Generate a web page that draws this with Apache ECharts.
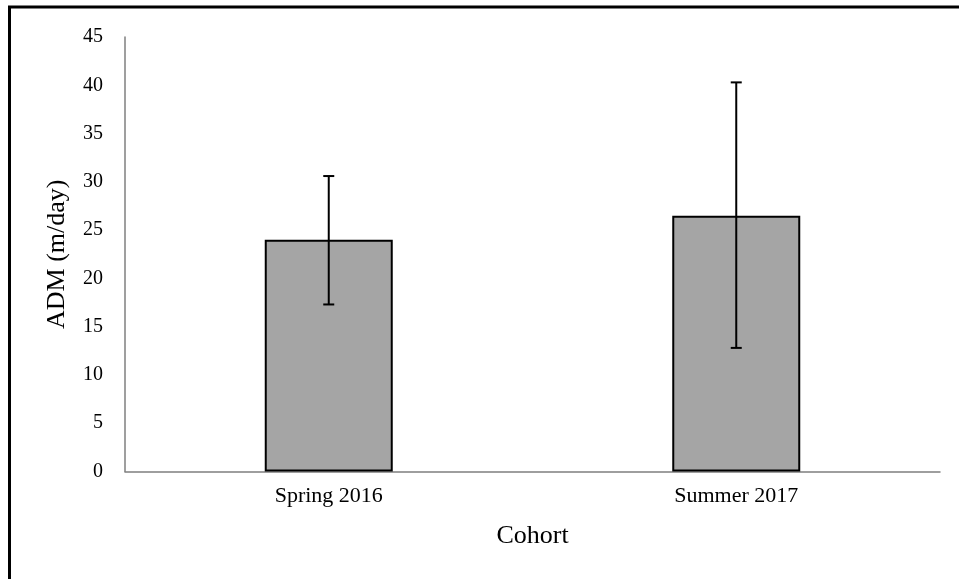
<!DOCTYPE html>
<html>
<head>
<meta charset="utf-8">
<script src="https://cdn.jsdelivr.net/npm/echarts@6/dist/echarts.min.js"></script>
<style>
html,body{margin:0;padding:0;background:#fff;}
#chart{width:959px;height:579px;}
</style>
</head>
<body>
<div id="chart"></div>
<script>
var categories = ['Spring 2016', 'Summer 2017'];
var means = [24.0, 26.5];
var errLow = [17.3, 12.8];
var errHigh = [30.6, 40.3];
var yTicks = [0, 5, 10, 15, 20, 25, 30, 35, 40, 45];

var FONT = '"Liberation Serif", "Times New Roman", serif';
var chart = echarts.init(document.getElementById('chart'), null, {renderer: 'canvas'});

var errData = categories.map(function (c, i) { return [i, errLow[i], errHigh[i]]; });

chart.setOption({
  backgroundColor: '#ffffff',
  animation: false,
  grid: {left: 125, right: 19, top: 37, bottom: 107.5, containLabel: false},
  graphic: [
    {type: 'line', shape: {x1: 9.5, y1: 6, x2: 9.5, y2: 579}, style: {stroke: '#000', lineWidth: 3}, z: 100},
    {type: 'line', shape: {x1: 8, y1: 7, x2: 959, y2: 7}, style: {stroke: '#000', lineWidth: 3}, z: 100}
  ],
  xAxis: {
    type: 'category',
    data: categories,
    name: 'Cohort',
    nameLocation: 'middle',
    nameGap: 52,
    nameTextStyle: {fontFamily: FONT, fontSize: 26, color: '#000'},
    axisLine: {lineStyle: {color: '#7f7f7f', width: 1.5}},
    axisTick: {show: false},
    axisLabel: {fontFamily: FONT, fontSize: 22, color: '#000', margin: 14},
    splitLine: {show: false}
  },
  yAxis: {
    type: 'value',
    min: 0,
    max: 45,
    interval: 5,
    name: 'ADM (m/day)',
    nameLocation: 'middle',
    nameGap: 55,
    nameTextStyle: {fontFamily: FONT, fontSize: 26, color: '#000'},
    axisLine: {show: true, lineStyle: {color: '#7f7f7f', width: 1.5}},
    axisTick: {show: false},
    axisLabel: {fontFamily: FONT, fontSize: 20, color: '#000', margin: 22,
      formatter: function (v) { return yTicks.indexOf(v) >= 0 ? String(v) : ''; }},
    splitLine: {show: false}
  },
  series: [
    {
      type: 'bar',
      data: means,
      barWidth: 128,
      itemStyle: {color: '#a5a5a5', borderColor: '#000', borderWidth: 2}
    },
    {
      type: 'custom',
      data: errData,
      z: 10,
      renderItem: function (params, api) {
        var x = api.value(0);
        var lo = api.coord([x, api.value(1)]);
        var hi = api.coord([x, api.value(2)]);
        var half = 5.5;
        var st = {stroke: '#000', lineWidth: 2};
        return {
          type: 'group',
          children: [
            {type: 'line', shape: {x1: lo[0], y1: lo[1], x2: hi[0], y2: hi[1]}, style: st},
            {type: 'line', shape: {x1: hi[0] - half, y1: hi[1], x2: hi[0] + half, y2: hi[1]}, style: st},
            {type: 'line', shape: {x1: lo[0] - half, y1: lo[1], x2: lo[0] + half, y2: lo[1]}, style: st}
          ]
        };
      }
    }
  ]
});
</script>
</body>
</html>
